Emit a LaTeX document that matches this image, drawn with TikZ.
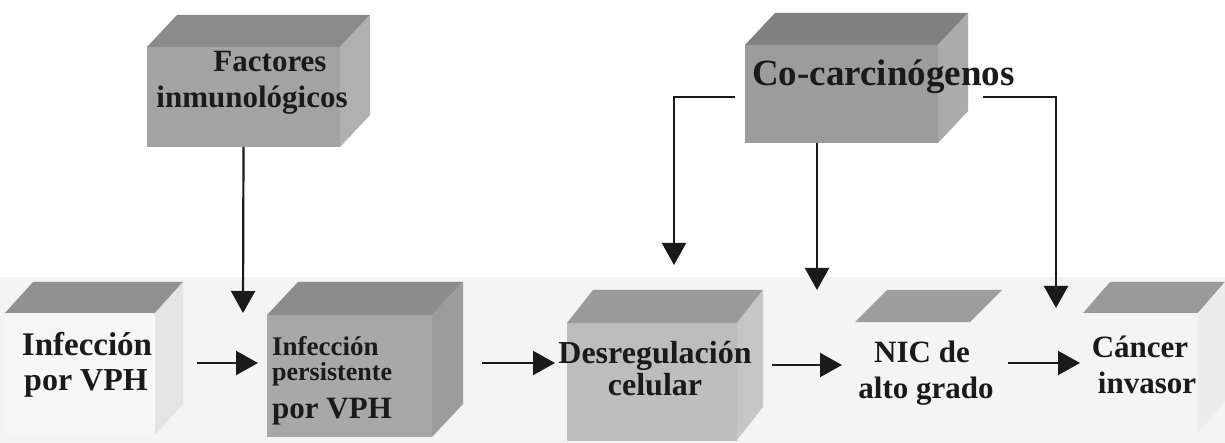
\documentclass[tikz,border=0pt]{standalone}
\usepackage{fontspec}
\setmainfont{Liberation Serif}
\usetikzlibrary{arrows.meta,calc}
\definecolor{fiFront}{HTML}{A3A3A3}
\definecolor{fiMid}{HTML}{B8B8B8}
\definecolor{fiTop}{HTML}{8A8A8A}
\definecolor{fiSide}{HTML}{B0B0B0}
\definecolor{ccFront}{HTML}{9C9C9C}
\definecolor{ccTop}{HTML}{808080}
\definecolor{ccSide}{HTML}{ABABAB}
\definecolor{bandGray}{HTML}{F4F4F4}
\definecolor{oneFront}{HTML}{F6F6F6}
\definecolor{oneSide}{HTML}{E4E4E4}
\definecolor{oneTop}{HTML}{919191}
\definecolor{twoFront}{HTML}{A8A8A8}
\definecolor{twoTop}{HTML}{8C8C8C}
\definecolor{twoSide}{HTML}{9C9C9C}
\definecolor{thrTopC}{HTML}{BDBDBD}
\definecolor{thrMidC}{HTML}{DADADA}
\definecolor{thrBotC}{HTML}{BEBEBE}
\definecolor{thrTop}{HTML}{9A9A9A}
\definecolor{thrSide}{HTML}{C6C6C6}
\definecolor{fourTop}{HTML}{9E9E9E}
\definecolor{fiveTop}{HTML}{9A9A9A}
\definecolor{fiveSide}{HTML}{ECECEC}
\definecolor{ink}{HTML}{1A1A1A}
\newcommand{\mycuboid}[5]{%
  \fill[#4] (#1.north west) -- ++(#2,#3) -- ($(#1.north east)+(#2,#3)$) -- (#1.north east) -- cycle;
  \fill[#5] (#1.north east) -- ++(#2,#3) -- ($(#1.south east)+(#2,#3)$) -- (#1.south east) -- cycle;
}
\begin{document}
\begin{tikzpicture}[x=1pt,y=-1pt,
  face/.style={inner sep=0pt,outer sep=0pt,draw=none},
  txt/.style={inner sep=0pt,anchor=base,text=ink,font=\bfseries\fontsize{#1}{#1}\selectfont},
  arr/.style={line width=2.2pt,draw=ink,-{Triangle[length=22pt,width=24pt]}},
  ]
\useasboundingbox (0,0) rectangle (1225,443);
\fill[white] (0,0) rectangle (1225,443);
\fill[bandGray] (0,277) rectangle (1225,443);

% --- box faces (front faces as named nodes) ---
\node[face,minimum width=193pt,minimum height=100pt,top color=fiFront,middle color=fiMid,bottom color=fiFront] (fi) at (243.5,97) {};
\mycuboid{fi}{30}{-32}{fiTop}{fiSide}
\node[face,minimum width=193pt,minimum height=98pt,fill=ccFront] (cc) at (841.5,94) {};
\mycuboid{cc}{30}{-32}{ccTop}{ccSide}
\node[face,minimum width=150pt,minimum height=122pt,fill=oneFront] (b1) at (80,374) {};
\mycuboid{b1}{28}{-31}{oneTop}{oneSide}
\node[face,minimum width=165pt,minimum height=122pt,fill=twoFront] (b2) at (349.5,376) {};
\mycuboid{b2}{31}{-33}{twoTop}{twoSide}
\node[face,minimum width=170pt,minimum height=117pt,top color=thrTopC,middle color=thrMidC,bottom color=thrBotC] (b3) at (652,381.5) {};
\mycuboid{b3}{26}{-33}{thrTop}{thrSide}
\node[face,minimum width=115pt,minimum height=113pt] (b4) at (912.5,378.5) {};
\fill[fourTop] (b4.north west) -- ++(32,-32) -- ($(b4.north east)+(32,-32)$) -- (b4.north east) -- cycle;
\node[face,minimum width=115pt,minimum height=120pt] (b5) at (1140.5,373) {};
\mycuboid{b5}{27}{-31}{fiveTop}{fiveSide}

% --- texts ---
\node[txt=31] (fiA) at (270,72) {Factores};
\node[txt=31] (fiB) at (252,108) {inmunológicos};
\node[txt=37,anchor=base west] (ccA) at (752,86) {Co-carcinógenos};
\node[txt=33] (b1A) at (87,355) {Infección};
\node[txt=32] (b1B) at (86,390) {por VPH};
\node[txt=27,anchor=base west] (b2A) at (272,355) {Infección};
\node[txt=26,anchor=base west] (b2B) at (272,380) {persistente};
\node[txt=31,anchor=base west] (b2C) at (272,418) {por VPH};
\node[txt=32] (b3A) at (655,363) {Desregulación};
\node[txt=32] (b3B) at (655,395) {celular};
\node[txt=31] (b4A) at (922,362) {NIC de};
\node[txt=31] (b4B) at (926,398) {alto grado};
\node[txt=31] (b5A) at (1140,357) {Cáncer};
\node[txt=31] (b5B) at (1147,393) {invasor};

% --- connectors ---
\coordinate (row) at (0,363);
\coordinate (fiEnd) at (243,313);
\coordinate (ccL) at (674,265);
\coordinate (ccM) at (817,290);
\coordinate (ccR) at (1056,308);

\draw[arr] (fi.south) -- (fiEnd);
\draw[arr] ($(cc.west)+(-10,3)$) -| (ccL);
\draw[arr] (ccM |- cc.south) -- (ccM);
\draw[arr] ($(cc.east)+(45,3)$) -| (ccR);

\draw[arr] ($(b1.east |- row)+(42,0)$) -- ($(b2.west |- row)+(-9,0)$);
\draw[arr] ($(b2.east |- row)+(50,0)$) -- ($(b3.west |- row)+(-12,0)$);
\draw[arr] ($(b3.east |- row)+(35,2)$) -- ($(b4.west |- row)+(-13,2)$);
\draw[arr] ($(b4.east |- row)+(38,0)$) -- ($(b5.west |- row)+(-3,0)$);
\end{tikzpicture}
\end{document}
